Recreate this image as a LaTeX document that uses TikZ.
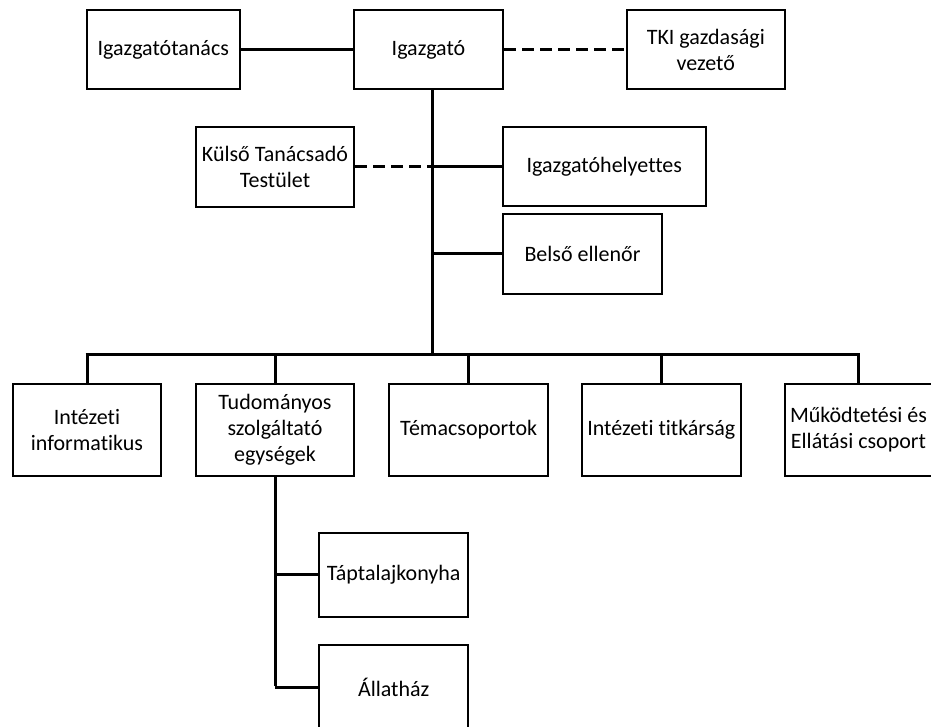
\documentclass[tikz,border=0pt]{standalone}
\usepackage{fontspec}
\setmainfont{Carlito}[RawFeature={-liga;-clig;-calt;-dlig}]
\begin{document}
\begin{tikzpicture}[x=1pt,y=-1pt,
  box/.style={draw=black,line width=2pt,rectangle,align=center,inner sep=2pt,
    font=\fontsize{22}{26}\selectfont},
  conn/.style={line width=3pt},
  dconn/.style={line width=3pt,dash pattern=on 12pt off 6pt}]
\useasboundingbox (0,0) rectangle (931,727);
\clip (0,0) rectangle (931,727);
\fill[white] (0,0) rectangle (931,727);
% nodes
\node[box,minimum width=153pt,minimum height=79pt] (tanacs) at (163.3,49.5) {Igazgatótanács};
\node[box,minimum width=149pt,minimum height=79pt] (igazgato) at (428.5,49.5) {Igazgató};
\node[box,minimum width=158pt,minimum height=79pt] (tki) at (705.8,49.5) {TKI gazdasági\\vezető};
\node[box,minimum width=158pt,minimum height=80pt] (kulso) at (275,166.7) {Külső Tanácsadó\\Testület};
\node[box,minimum width=203pt,minimum height=79pt] (helyettes) at (604.3,166.3) {Igazgatóhelyettes};
\node[box,minimum width=159.5pt,minimum height=80pt] (belso) at (582.5,254) {Belső ellenőr};
\node[box,minimum width=148.6pt,minimum height=91.7pt] (info) at (87,430) {Intézeti\\informatikus};
\node[box,minimum width=158pt,minimum height=91.7pt] (tud) at (275,430) {Tudományos\\szolgáltató\\egységek};
\node[box,minimum width=159.3pt,minimum height=91.7pt] (tema) at (468.7,430) {Témacsoportok};
\node[box,minimum width=159.3pt,minimum height=91.7pt] (titk) at (661.3,430) {Intézeti titkárság};
\node[box,minimum width=147pt,minimum height=91.7pt] (mukod) at (858.5,430) {Működtetési és\\Ellátási csoport};
\node[box,minimum width=149.3pt,minimum height=84pt] (tapt) at (393.7,574.7) {Táptalajkonyha};
\node[box,minimum width=149.3pt,minimum height=84pt] (allat) at (393.7,687) {Állatház};
% coordinates
\coordinate (top) at (432.7,89);
\coordinate (bus) at (432.7,354);
% connectors
\draw[conn] (tanacs.east) -- (igazgato.west);
\draw[dconn] (igazgato.east) -- (tki.west);
\draw[conn] (top) -- (bus);
\draw[dconn] (kulso.east) -- (kulso.east -| top);
\draw[conn] (helyettes.west) -- (helyettes.west -| top);
\draw[conn] (belso.west) -- (belso.west -| top);
\draw[conn] ([xshift=-1.5pt]info.north |- bus) -- ([xshift=1.5pt]mukod.north |- bus);
\foreach \n in {info,tud,tema,titk,mukod}
  \draw[conn] (\n.north) -- (\n.north |- bus);
\draw[conn] (tud.south) -- ([yshift=1.5pt]tud.south |- allat.west);
\draw[conn] (tapt.west -| tud.south) -- (tapt.west);
\draw[conn] (allat.west -| tud.south) -- (allat.west);
\end{tikzpicture}
\end{document}
